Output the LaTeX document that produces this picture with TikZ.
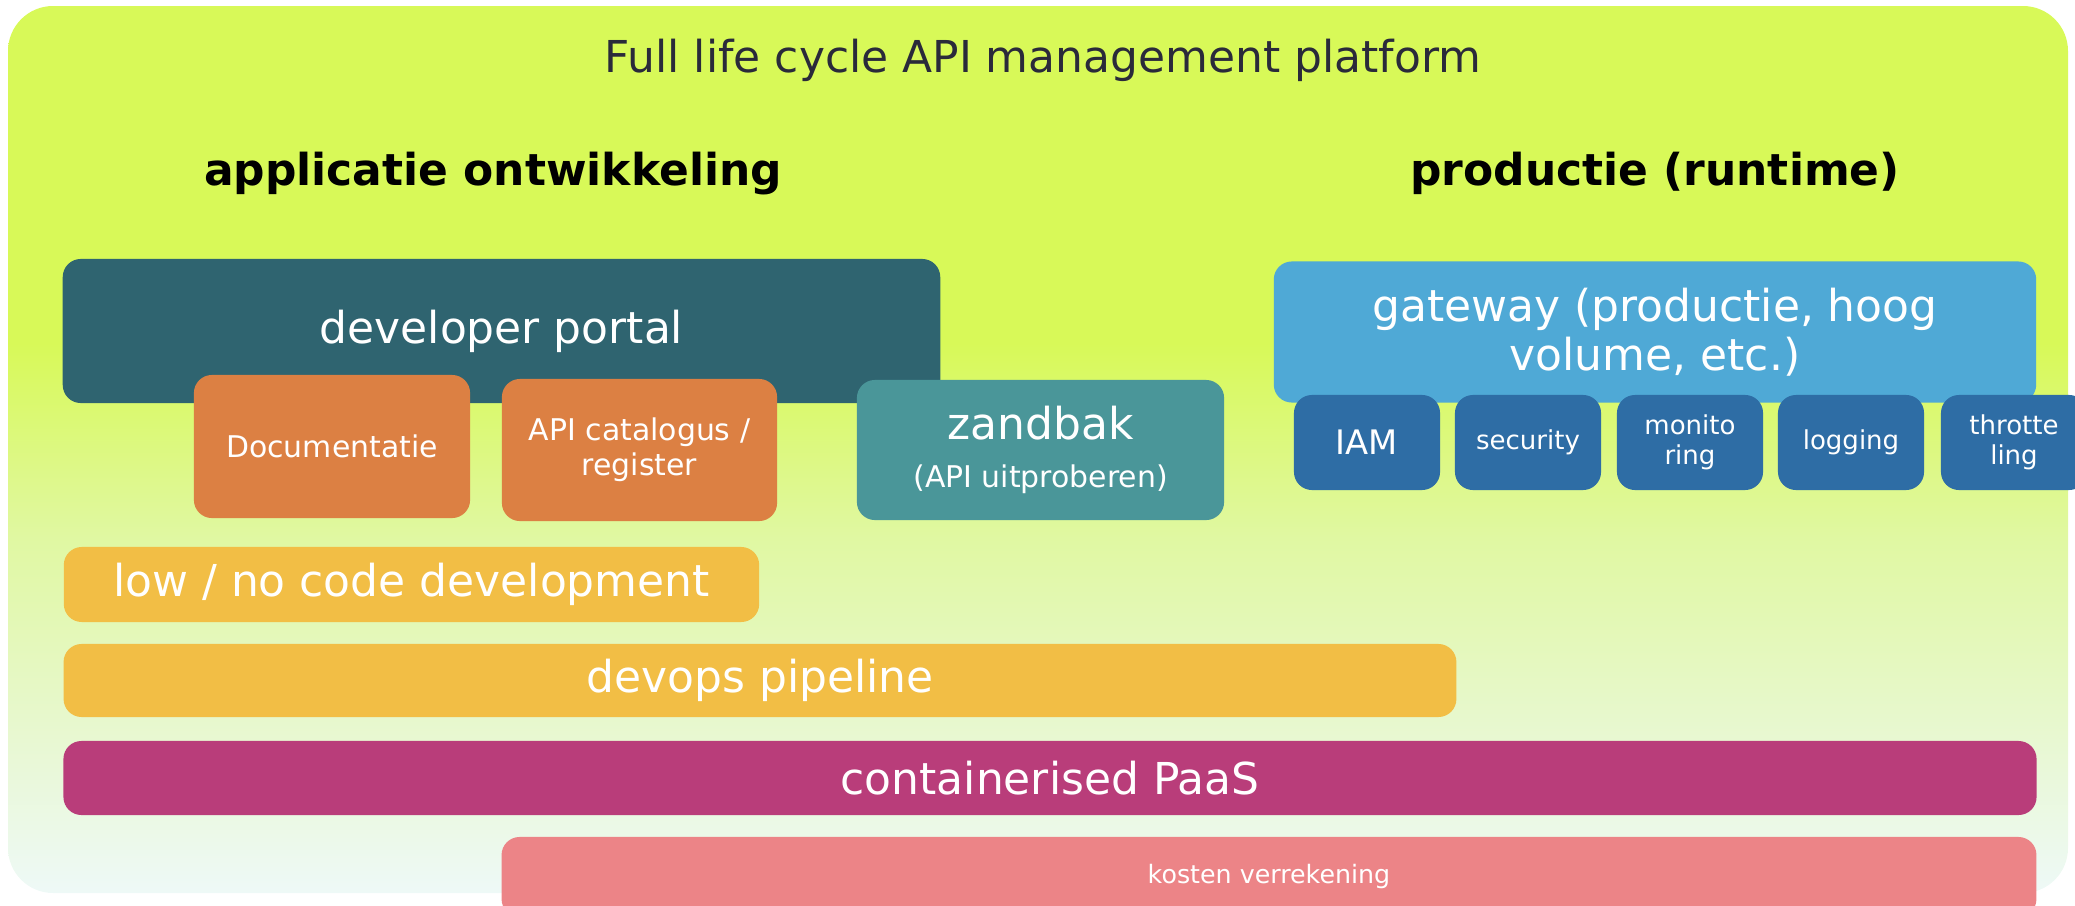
\documentclass[tikz,border=0pt]{standalone}
\usepackage{fontspec}
\setmainfont{DejaVu Sans}
\usepackage{tikz}

\definecolor{bgtop}{HTML}{D8F958}
\definecolor{bgmid}{HTML}{E0F8A2}
\definecolor{bglow}{HTML}{E7F8CC}
\definecolor{bgbot}{HTML}{EEF9F7}
\definecolor{titlec}{HTML}{2A2A3A}
\definecolor{portalc}{HTML}{2F6470}
\definecolor{docc}{HTML}{DC8043}
\definecolor{sandc}{HTML}{4A9699}
\definecolor{gatec}{HTML}{4FA9D6}
\definecolor{subc}{HTML}{2E6DA5}
\definecolor{lowc}{HTML}{F2BE45}
\definecolor{paasc}{HTML}{B93D7A}
\definecolor{costc}{HTML}{EC8487}

\pgfdeclareverticalshading{platformbg}{100bp}{color(0bp)=(bgbot); color(25bp)=(bgbot); color(35bp)=(bglow); color(45bp)=(bgmid); color(56bp)=(bgtop); color(100bp)=(bgtop)}

\begin{document}
\begin{tikzpicture}[x=0.01cm, y=-0.01cm,
  tile/.style={rounded corners=0.18cm, text=white, align=center, inner sep=0pt},
  bigtxt/.style={font=\fontsize{12.5}{14}\selectfont},
  midtxt/.style={font=\fontsize{8.5}{10}\selectfont},
  subtxt/.style={font=\fontsize{7.4}{8.5}\selectfont},
  subtile/.style={tile, fill=subc, minimum width=1.46cm, minimum height=0.95cm, subtxt}]
\useasboundingbox (0,0) rectangle (2075,906);
\clip (0,0) rectangle (2075,906);
\shade [shading=platformbg, rounded corners=0.45cm] (8,6) rectangle (2068,893);

\path (1043,72) node [anchor=base, text=titlec, bigtxt] (title) {Full life cycle API management platform};
\path (493,185) node [anchor=base, font=\fontsize{12.5}{15}\selectfont\bfseries] (dev) {applicatie ontwikkeling};
\path (1655,185) node [anchor=base, font=\fontsize{12.5}{15}\selectfont\bfseries] (prod) {productie (runtime)};

\path (501.5,331) node [tile, fill=portalc, minimum width=8.77cm, minimum height=1.44cm, bigtxt] (portal) {developer portal};
\path (332,446.5) node [tile, fill=docc, minimum width=2.76cm, minimum height=1.43cm, midtxt] (docs) {Documentatie};
\path (639.5,450) node [tile, fill=docc, minimum width=2.75cm, minimum height=1.42cm, midtxt] (catalog) {API catalogus /\\register};
\path (1040.5,450) node [tile, fill=sandc, minimum width=3.67cm, minimum height=1.40cm] (sandbox) {{\fontsize{12.5}{13.4}\selectfont zandbak}\\[1.5pt]{\fontsize{8.5}{9.6}\selectfont (API uitproberen)}};

\path (1655,332) node [tile, fill=gatec, minimum width=7.62cm, minimum height=1.41cm, bigtxt] (gateway) {gateway (productie, hoog\\volume, etc.)};
\path (1367,442.5) node [subtile, font=\fontsize{9.6}{11}\selectfont] (iam) {IAM};
\path (1528,442.5) node [subtile] (security) {security};
\path (1690,442.5) node [subtile] (monitor) {monito\\ring};
\path (1851,442.5) node [subtile] (logging) {logging};
\path (2014,442.5) node [subtile] (throttle) {throtte\\ling};

\path (411.5,584.5) node [tile, fill=lowc, minimum width=6.95cm, minimum height=0.75cm, bigtxt] (lowcode) {low / no code development};
\path (760,680.5) node [tile, fill=lowc, minimum width=13.92cm, minimum height=0.73cm, bigtxt] (devops) {devops pipeline};
\path (1050,778) node [tile, fill=paasc, minimum width=19.72cm, minimum height=0.74cm, bigtxt] (paas) {containerised PaaS};
\path (1269,877) node [tile, fill=costc, minimum width=15.34cm, minimum height=0.80cm, font=\fontsize{7.2}{8.5}\selectfont] (costs) {kosten verrekening};
\end{tikzpicture}
\end{document}
